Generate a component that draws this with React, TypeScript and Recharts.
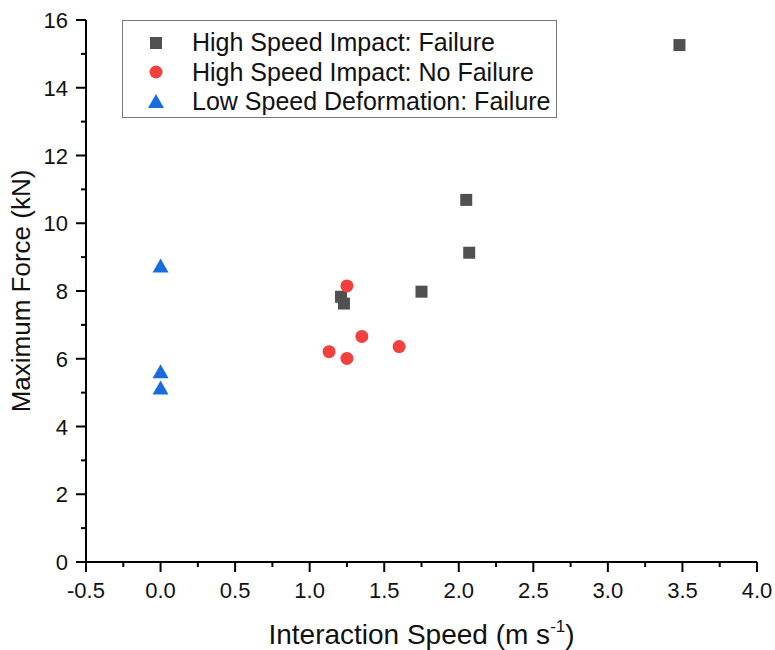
import { ScatterChart, Scatter, XAxis, YAxis } from "recharts";

const failureSpeed = [3.48, 2.05, 2.07, 1.75, 1.21, 1.23];
const failureForce = [15.26, 10.69, 9.13, 7.98, 7.83, 7.63];

const noFailureSpeed = [1.25, 1.35, 1.13, 1.25, 1.6];
const noFailureForce = [8.15, 6.66, 6.21, 6.01, 6.36];

const lowSpeed = [0, 0, 0];
const lowForce = [8.72, 5.6, 5.12];

const xTicks = [-0.5, -0.25, 0, 0.25, 0.5, 0.75, 1, 1.25, 1.5, 1.75, 2, 2.25, 2.5, 2.75, 3, 3.25, 3.5, 3.75, 4];
const yTicks = [0, 1, 2, 3, 4, 5, 6, 7, 8, 9, 10, 11, 12, 13, 14, 15, 16];

const toPoints = (xs: number[], ys: number[]) => xs.map((x, i) => ({ x, y: ys[i] }));

const failure = toPoints(failureSpeed, failureForce);
const noFailure = toPoints(noFailureSpeed, noFailureForce);
const lowDeform = toPoints(lowSpeed, lowForce);

const GREY = "#505050";
const RED = "#f43f3f";
const BLUE = "#1a6ae0";
const FONT = "'Liberation Sans', Arial, sans-serif";

const Square = (p: any) => <rect x={p.cx - 6} y={p.cy - 6} width={12} height={12} fill={GREY} />;
const Dot = (p: any) => <circle cx={p.cx} cy={p.cy} r={6.5} fill={RED} />;
const Tri = (p: any) => (
  <polygon points={`${p.cx},${p.cy - 8} ${p.cx + 8},${p.cy + 6} ${p.cx - 8},${p.cy + 6}`} fill={BLUE} />
);

const XTick = (p: any) => {
  const v = p.payload.value;
  const major = Math.abs(v * 2 - Math.round(v * 2)) < 1e-6;
  return (
    <g>
      <line x1={p.x} x2={p.x} y1={p.y} y2={p.y + (major ? 10 : 5)} stroke="#000" strokeWidth={2} />
      {major && (
        <text x={p.x} y={p.y + 36} textAnchor="middle" fontSize={22} fontFamily={FONT} fill="#111">
          {v.toFixed(1)}
        </text>
      )}
    </g>
  );
};

const YTick = (p: any) => {
  const v = p.payload.value;
  const major = v % 2 === 0;
  return (
    <g>
      <line x1={p.x - (major ? 10 : 5)} x2={p.x} y1={p.y} y2={p.y} stroke="#000" strokeWidth={2} />
      {major && (
        <text x={p.x - 18} y={p.y + 8} textAnchor="end" fontSize={22} fontFamily={FONT} fill="#111">
          {v}
        </text>
      )}
    </g>
  );
};

const XTitle = (p: any) => {
  const vb = p.viewBox;
  return (
    <text x={vb.x + vb.width / 2} y={vb.y + 82} textAnchor="middle" fontSize={28} fontFamily={FONT} fill="#111">
      Interaction Speed (m s<tspan fontSize={17} dy={-12}>-1</tspan><tspan dy={12}>)</tspan>
    </text>
  );
};

const YTitle = (p: any) => {
  const vb = p.viewBox;
  const cy = vb.y + vb.height / 2;
  return (
    <text x={30} y={cy} transform={`rotate(-90 30 ${cy})`} textAnchor="middle" fontSize={26} fontFamily={FONT} fill="#111">
      Maximum Force (kN)
    </text>
  );
};

const legendRows = [
  { label: "High Speed Impact: Failure", icon: <rect x={4} y={4} width={12} height={12} fill={GREY} /> },
  { label: "High Speed Impact: No Failure", icon: <circle cx={10} cy={10} r={6.5} fill={RED} /> },
  { label: "Low Speed Deformation: Failure", icon: <polygon points="10,2 18,16 2,16" fill={BLUE} /> },
];

export default function App() {
  return (
    <div style={{ position: "absolute", left: 0, top: 0, width: 775, height: 650, background: "#fff" }}>
      <ScatterChart width={775} height={650} margin={{ top: 20, right: 18, bottom: 28, left: 26 }}>
        <XAxis
          type="number"
          dataKey="x"
          domain={[-0.5, 4]}
          ticks={xTicks}
          interval={0}
          height={60}
          tickSize={0}
          tickMargin={0}
          tickLine={false}
          tick={<XTick />}
          axisLine={{ stroke: "#000", strokeWidth: 2 }}
          label={{ content: <XTitle /> }}
        />
        <YAxis
          type="number"
          dataKey="y"
          domain={[0, 16]}
          ticks={yTicks}
          interval={0}
          width={60}
          tickSize={0}
          tickMargin={0}
          tickLine={false}
          tick={<YTick />}
          axisLine={{ stroke: "#000", strokeWidth: 2 }}
          label={{ content: <YTitle /> }}
        />
        <Scatter name="High Speed Impact: Failure" data={failure} shape={<Square />} isAnimationActive={false} />
        <Scatter name="High Speed Impact: No Failure" data={noFailure} shape={<Dot />} isAnimationActive={false} />
        <Scatter name="Low Speed Deformation: Failure" data={lowDeform} shape={<Tri />} isAnimationActive={false} />
      </ScatterChart>
      <div
        style={{
          position: "absolute",
          left: 122,
          top: 20,
          width: 433,
          height: 96,
          border: "1px solid #777",
          boxSizing: "content-box",
          fontFamily: FONT,
          fontSize: 25,
          color: "#111",
        }}
      >
        {legendRows.map((r, i) => (
          <div key={i} style={{ position: "absolute", left: 0, top: 7 + i * 29.5, height: 29 }}>
            <svg width={20} height={20} style={{ position: "absolute", left: 23, top: 4.5 }}>
              {r.icon}
            </svg>
            <span style={{ position: "absolute", left: 69, whiteSpace: "nowrap", lineHeight: "29px", top: 0 }}>{r.label}</span>
          </div>
        ))}
      </div>
    </div>
  );
}
